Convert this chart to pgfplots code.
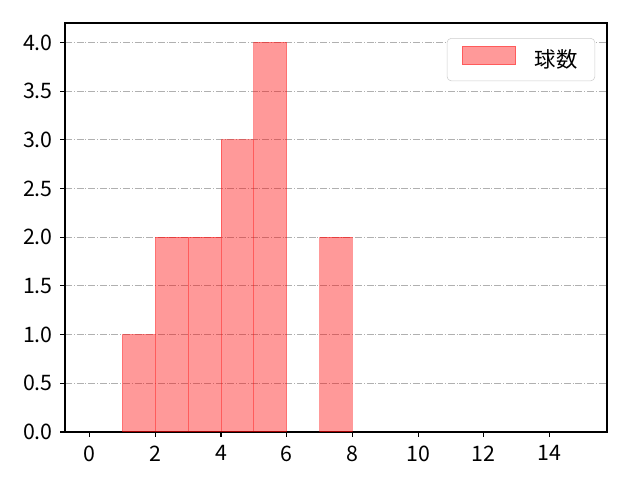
\documentclass[border=0pt]{standalone}
\usepackage{pgfplots}
\pgfplotsset{compat=1.18}
\usepackage{fontspec}
\setmainfont{Noto Sans CJK JP}
\begin{document}
\fontsize{16}{19}\selectfont
\begin{tikzpicture}
\begin{axis}[
  scale only axis,
  width=406.5pt, height=306.75pt,
  xmin=-0.75, xmax=15.75,
  ymin=0, ymax=4.2,
  xtick={0,2,...,14},
  ytick={0,0.5,...,4.0},
  yticklabel style={/pgf/number format/.cd,fixed,fixed zerofill,precision=1},
  /pgf/number format/assume math mode=true,
  tick align=outside,
  tick pos=left,
  major tick length=3.65pt,
  tick style={black, line width=0.83pt},
  axis line style={black, line width=0.83pt},
  ymajorgrids,
  grid style={color=black!31, line width=0.83pt, dash pattern=on 5.3pt off 1.3pt on 0.8pt off 1.3pt},
  ticklabel style={font=\fontsize{16}{19}\selectfont},
  xticklabel style={yshift=-1pt},
  legend style={at={(0.978,0.963)}, anchor=north east, draw=black!20, rounded corners=3pt, font=\fontsize{16}{19}\selectfont, inner xsep=11pt, inner ysep=5.5pt},
  legend image code/.code={\draw[#1, sharp corners, draw opacity=0.4, fill opacity=0.4] (0pt,-3.5pt) rectangle (40pt,10.5pt);},
  legend cell align=left,
]
\addplot[ybar interval, fill=red, draw=red, fill opacity=0.4, draw opacity=0.4, line width=0.75pt]
  coordinates {(1,1) (2,2) (3,2) (4,3) (5,4) (6,0)};
\addlegendentry{\hspace{12pt}球数}
\addplot[ybar interval, fill=red, draw=red, fill opacity=0.4, draw opacity=0.4, line width=0.75pt, forget plot]
  coordinates {(7,2) (8,0)};
\end{axis}
\useasboundingbox ([xshift=-48.75pt,yshift=-36pt]current axis.south west) rectangle ([xshift=24.75pt,yshift=17.25pt]current axis.north east);
\end{tikzpicture}
\end{document}
